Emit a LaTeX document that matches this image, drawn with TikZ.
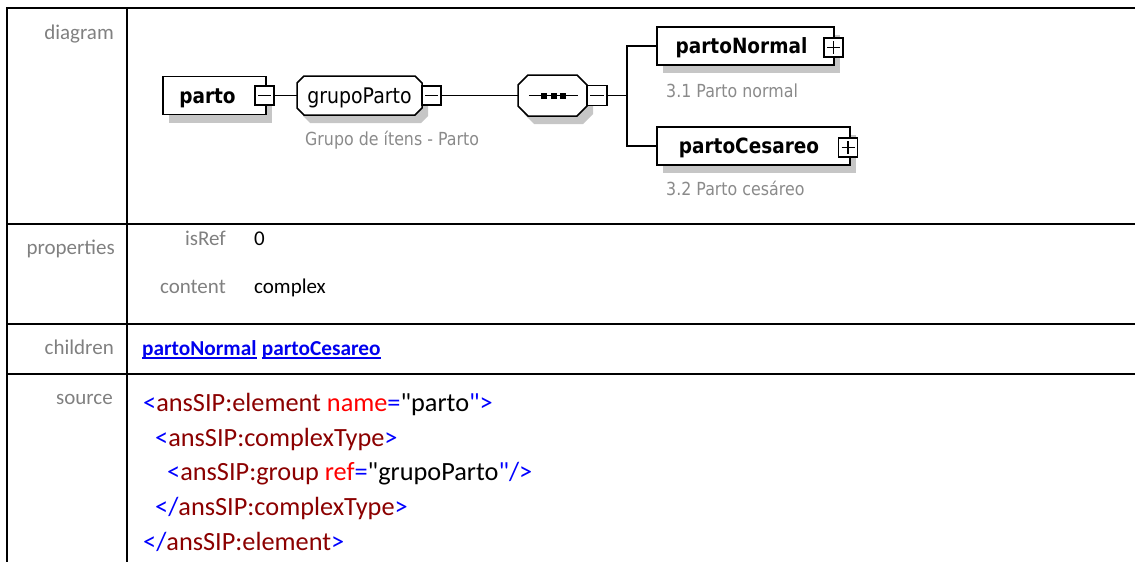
\documentclass[tikz,border=0pt]{standalone}
\usepackage{fontspec}
\setmainfont{Carlito}
\newfontfamily\srcfont{Carlito}
\newfontfamily\dgfont[FakeStretch=0.88]{DejaVu Sans}
\usetikzlibrary{shadows}
\definecolor{lblgray}{HTML}{808080}
\definecolor{anngray}{HTML}{8A8A8A}
\definecolor{shd}{HTML}{C6C6C6}
\definecolor{xblue}{HTML}{0000FF}
\definecolor{xred}{HTML}{8B0000}
\definecolor{xattr}{HTML}{FF0000}
\definecolor{lnkc}{HTML}{0000EE}
% octagon: centre x, centre y, width, height, cut
\newcommand\octo[5]{({#1-#3/2+#5},{#2-#4/2}) -- ({#1+#3/2-#5},{#2-#4/2}) -- ({#1+#3/2},{#2-#4/2+#5})
  -- ({#1+#3/2},{#2+#4/2-#5}) -- ({#1+#3/2-#5},{#2+#4/2}) -- ({#1-#3/2+#5},{#2+#4/2})
  -- ({#1-#3/2},{#2+#4/2-#5}) -- ({#1-#3/2},{#2-#4/2+#5}) -- cycle}
\begin{document}
\begin{tikzpicture}[x=1pt,y=-1pt,
  tline/.style={line width=2pt},
  rowlbl/.style={anchor=base east, text=lblgray, font=\fontsize{21}{25}\selectfont, inner sep=0},
  val/.style={anchor=base west, font=\fontsize{21}{25}\selectfont, inner sep=0},
  src/.style={anchor=base west, font=\srcfont\fontsize{26.3}{30}\selectfont, inner sep=0},
  lnk/.style={anchor=base west, text=lnkc, font=\bfseries\fontsize{21.3}{25}\selectfont, inner sep=0},
  shdw/.style={general shadow={shadow xshift=6pt, shadow yshift=-8pt, fill=shd}},
  elem/.style={draw, line width=1.5pt, fill=white, rectangle, inner sep=0, minimum height=38pt, shdw,
    text height=17pt, text depth=2pt, font=\dgfont\bfseries\fontsize{21}{24}\selectfont},
  grptxt/.style={draw=none, inner sep=0, text height=17pt, text depth=2pt,
    font=\dgfont\fontsize{21.5}{24}\selectfont},
  octline/.style={line width=1.5pt, fill=white},
  ann/.style={anchor=base west, text=anngray, inner sep=0, font=\dgfont\fontsize{18}{22}\selectfont},
  sgn/.style={draw, fill=white, line width=1.5pt, minimum size=19pt, inner sep=0},
  minusbox/.style={sgn, path picture={\draw[line width=1.4pt]
      ([xshift=3pt]path picture bounding box.west) -- ([xshift=-3pt]path picture bounding box.east);}},
  plusbox/.style={sgn, path picture={\draw[line width=1.4pt]
      ([xshift=3pt]path picture bounding box.west) -- ([xshift=-3pt]path picture bounding box.east)
      ([yshift=-3pt]path picture bounding box.north) -- ([yshift=3pt]path picture bounding box.south);}},
  conn/.style={line width=1.6pt}
]
\useasboundingbox (0,0) rectangle (1135,562);

% table grid
\draw[tline] (1135,8) -- (7,8) -- (7,562);
\draw[tline] (127,8) -- (127,562);
\draw[tline] (7,223.5) -- (1135,223.5);
\draw[tline] (7,323.5) -- (1135,323.5);
\draw[tline] (7,373.5) -- (1135,373.5);

% row labels
\node[rowlbl] (ldiag) at (114,39) {diagram};
\node[rowlbl] (lprop) at (115,254) {properties};
\node[rowlbl] (lchil) at (114,354) {children};
\node[rowlbl] (lsrc)  at (113,404) {source};

% properties
\node[rowlbl] (kisref) at (226,245) {isRef};
\node[val] (visref) at (254,245) {0};
\node[rowlbl] (kcont) at (226,293) {content};
\node[val] (vcont) at (254,293) {complex};

% children
\node[lnk] (l1) at (142,355) {partoNormal};
\node[lnk] (l2) at ([xshift=5pt]l1.base east) {partoCesareo};
\draw[lnkc, line width=1.4pt] ([yshift=-3pt]l1.base west) -- ([yshift=-3pt]l1.base east);
\draw[lnkc, line width=1.4pt] ([yshift=-3pt]l2.base west) -- ([yshift=-3pt]l2.base east);

% source
\node[src] (s1) at (143,411) {\textcolor{xblue}{<}\textcolor{xred}{ansSIP:element} \textcolor{xattr}{name}\textcolor{xblue}{=}"parto\textcolor{xblue}{">}};
\node[src] (s2) at (155,446) {\textcolor{xblue}{<}\textcolor{xred}{ansSIP:complexType}\textcolor{xblue}{>}};
\node[src] (s3) at (167,480) {\textcolor{xblue}{<}\textcolor{xred}{ansSIP:group} \textcolor{xattr}{ref}\textcolor{xblue}{=}"grupoParto\textcolor{xblue}{"/>}};
\node[src] (s4) at (155,515) {\textcolor{xblue}{</}\textcolor{xred}{ansSIP:complexType}\textcolor{xblue}{>}};
\node[src] (s5) at (143,550) {\textcolor{xblue}{</}\textcolor{xred}{ansSIP:element}\textcolor{xblue}{>}};

% diagram: parto
\node[elem, minimum width=103pt] (parto) at (214.5,95.5) {parto\kern14pt};
\node[minusbox] (partom) at (264.5,95.5) {};

% grupoParto (octagon)
\fill[shd] \octo{365.5}{103.5}{125}{39}{7};
\filldraw[octline] \octo{359.5}{95.5}{125}{39}{7};
\node[grptxt, minimum width=125pt, minimum height=39pt] (grp) at (359.5,95.5) {grupoParto};
\node[minusbox] (grpm) at (431.5,95.5) {};
\node[ann] (agrp) at (305,145) {Grupo de ítens - Parto};

% sequence compositor (octagon)
\fill[shd] \octo{558.5}{103.5}{69}{41}{10};
\filldraw[octline] \octo{552.5}{95.5}{69}{41}{10};
\node[grptxt, minimum width=69pt, minimum height=41pt] (seq) at (552.5,95.5) {};
\node[minusbox, minimum size=20pt] (seqm) at (597,95.5) {};
\draw[conn] ([xshift=11pt]seq.west) -- ([xshift=-9pt]seq.east);
\fill ([shift={(-11.5,-3)}]seq.center) rectangle +(6,6);
\fill ([shift={(-2,-3)}]seq.center) rectangle +(6,6);
\fill ([shift={(7.5,-3)}]seq.center) rectangle +(6,6);

% children elements
\coordinate (fork) at (627,95.5);
\node[elem, minimum width=177pt] (pn) at (745.5,46) {partoNormal\kern8pt};
\node[plusbox] (pnp) at (833.5,47.5) {};
\node[ann] (apn) at (666,97) {3.1 Parto normal};
\node[elem, minimum width=193pt] (pc) at (753.5,146) {partoCesareo\kern9pt};
\node[plusbox] (pcp) at (848,147.5) {};
\node[ann] (apc) at (666,195) {3.2 Parto cesáreo};

% connectors
\draw[conn] (partom.east) -- (grp.west);
\draw[conn] (grpm.east) -- (seq.west);
\draw[conn] (seqm.east) -- (fork) |- (pn.west);
\draw[conn] (fork) |- (pc.west);
\end{tikzpicture}
\end{document}
